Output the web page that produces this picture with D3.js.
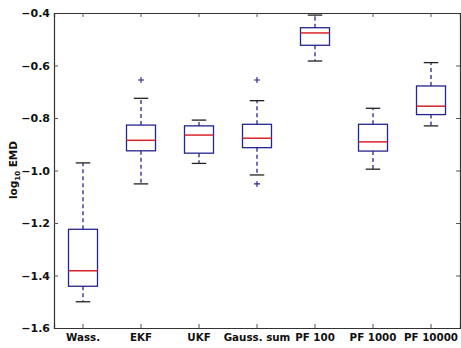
<!DOCTYPE html>
<html><head><meta charset="utf-8">
<script src="https://cdn.jsdelivr.net/npm/d3@7"></script>
<style>
body{margin:0;background:#fff;}
text{font-family:"DejaVu Sans",sans-serif;font-weight:bold;}
</style></head>
<body>
<svg id="chart" width="461" height="348"></svg>
<script>
const categories = ["Wass.","EKF","UKF","Gauss. sum","PF 100","PF 1000","PF 10000"];
const whiskerLow  = [-1.500,-1.051,-0.973,-1.017,-0.583,-0.995,-0.830];
const q1          = [-1.441,-0.925,-0.934,-0.913,-0.523,-0.926,-0.787];
const median      = [-1.382,-0.885,-0.865,-0.877,-0.476,-0.891,-0.755];
const q3          = [-1.224,-0.827,-0.830,-0.824,-0.456,-0.824,-0.678];
const whiskerHigh = [-0.971,-0.725,-0.808,-0.734,-0.408,-0.763,-0.589];
const outliers    = [[],[-0.655],[],[-0.655,-1.051],[],[],[]];
const yTicks = [-1.6,-1.4,-1.2,-1.0,-0.8,-0.6,-0.4];

const L=54,R=460,T=13,B=328;
const svg=d3.select("#chart");
const x=d3.scaleBand().domain(categories).range([L,R]).paddingInner(0).paddingOuter(0);
const y=d3.scaleLinear().domain([-1.6,-0.4]).range([B,T]);
const bw=x.bandwidth()*0.5, cw=bw*0.5;
const blue="#25258f", red="#d8232a";

const data=categories.map((c,i)=>({c,lo:whiskerLow[i],q1:q1[i],med:median[i],q3:q3[i],hi:whiskerHigh[i],out:outliers[i]}));
const g=svg.append("g");
const cx=d=>x(d.c)+x.bandwidth()/2;
data.forEach(d=>{
  const c=cx(d);
  g.append("line").attr("x1",c).attr("x2",c).attr("y1",y(d.q3)).attr("y2",y(d.hi)).attr("stroke",blue).attr("stroke-width",1.3).attr("stroke-dasharray","4,3");
  g.append("line").attr("x1",c).attr("x2",c).attr("y1",y(d.q1)).attr("y2",y(d.lo)).attr("stroke",blue).attr("stroke-width",1.3).attr("stroke-dasharray","4,3");
  g.append("line").attr("x1",c-cw/2).attr("x2",c+cw/2).attr("y1",y(d.hi)).attr("y2",y(d.hi)).attr("stroke","#222").attr("stroke-width",1.3);
  g.append("line").attr("x1",c-cw/2).attr("x2",c+cw/2).attr("y1",y(d.lo)).attr("y2",y(d.lo)).attr("stroke","#222").attr("stroke-width",1.3);
  g.append("rect").attr("x",c-bw/2).attr("y",y(d.q3)).attr("width",bw).attr("height",y(d.q1)-y(d.q3)).attr("fill","none").attr("stroke",blue).attr("stroke-width",1.3);
  g.append("line").attr("x1",c-bw/2).attr("x2",c+bw/2).attr("y1",y(d.med)).attr("y2",y(d.med)).attr("stroke",red).attr("stroke-width",1.5);
  d.out.forEach(o=>{
    g.append("path").attr("d",`M${c-3},${y(o)}H${c+3}M${c},${y(o)-3}V${y(o)+3}`).attr("stroke",blue).attr("stroke-width",1.1);
  });
});

const fmt=d3.format(".1f");
const ax=svg.append("g").attr("transform",`translate(${L},0)`).call(d3.axisLeft(y).tickValues(yTicks).tickFormat(fmt).tickSize(-4).tickPadding(4));
const ar=svg.append("g").attr("transform",`translate(${R},0)`).call(d3.axisRight(y).tickValues(yTicks).tickFormat("").tickSize(-4));
const axb=svg.append("g").attr("transform",`translate(0,${B})`).call(d3.axisBottom(x).tickSize(-4).tickPadding(6));
const axt=svg.append("g").attr("transform",`translate(0,${T})`).call(d3.axisTop(x).tickFormat("").tickSize(-4));
[ax,ar,axb,axt].forEach(a=>{a.selectAll(".domain").attr("stroke","#333").attr("stroke-width",1.2);a.selectAll(".tick line").attr("stroke","#555");a.selectAll("text").attr("fill","#111");});
ax.selectAll("text").style("font-size","11px");
axb.selectAll("text").style("font-size","10.3px");

svg.append("text").attr("transform","translate(17,170) rotate(-90)").attr("text-anchor","middle").attr("fill","#111").style("font-size","10.5px")
  .html('log<tspan font-size="7px" dy="2.5">10</tspan><tspan dy="-2.5"> EMD</tspan>');
</script>
</body></html>
